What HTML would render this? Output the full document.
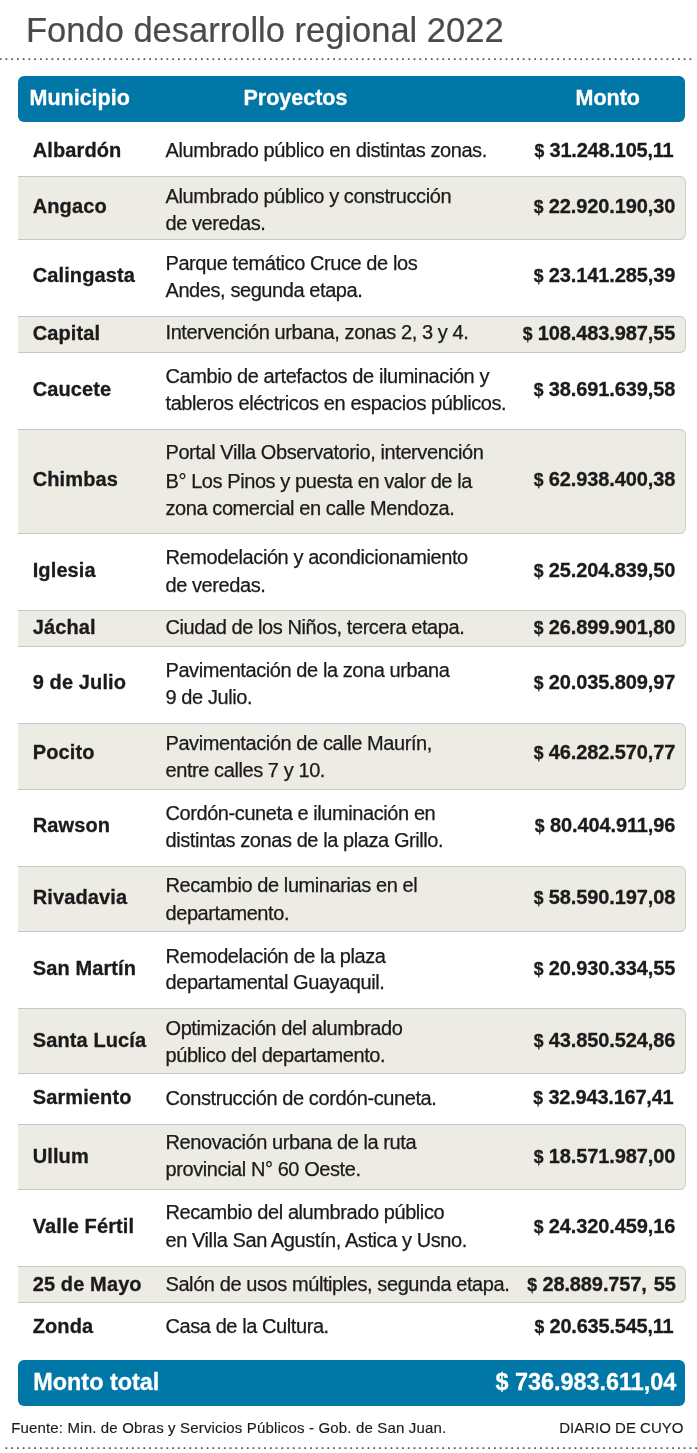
<!DOCTYPE html>
<html lang="es"><head><meta charset="utf-8"><title>Fondo desarrollo regional 2022</title>
<style>
html,body{margin:0;padding:0;background:#fff;}
body{width:697px;height:1453px;position:relative;overflow:hidden;font-family:"Liberation Sans",Arial,Helvetica,sans-serif;color:#1c1a1b;}
.t{position:absolute;white-space:nowrap;margin:0;}
#w{position:absolute;left:0;top:0;width:697px;height:1453px;will-change:transform;}
.title{font-size:34.5px;line-height:40px;color:#4a4a4a;-webkit-text-stroke:0.2px #4a4a4a;}
.dl{position:absolute;left:0;display:block;}
.bar{position:absolute;left:18px;width:667px;background:#0077a6;border-radius:6px;}
.hd{font-weight:bold;color:#fff;font-size:21.5px;line-height:26px;-webkit-text-stroke:0.3px #fff;}
.tot{font-weight:bold;color:#fff;font-size:23.4px;line-height:28px;-webkit-text-stroke:0.3px #fff;}
.sh{position:absolute;left:18px;width:666.7px;background:#ecece4;border-top:1px solid #c6c6c6;border-bottom:1px solid #c6c6c6;border-right:1px solid #cfcfcf;border-radius:0 6px 6px 0;box-sizing:content-box;}
.n{font-weight:bold;font-size:20px;line-height:24px;letter-spacing:0.12px;-webkit-text-stroke:0.3px #1c1a1b;}
.d{font-size:20px;line-height:24px;letter-spacing:-0.42px;-webkit-text-stroke:0.25px #1c1a1b;}
.a{font-weight:bold;font-size:20px;line-height:24px;letter-spacing:-0.11px;text-align:right;-webkit-text-stroke:0.3px #1c1a1b;}
.a i{font-style:normal;font-size:17.6px;letter-spacing:0;margin-right:5.3px;}
.f{font-size:15px;line-height:18px;color:#1a1a1a;-webkit-text-stroke:0.15px #1a1a1a;}
</style></head><body><div id="w">
<div class="t title" style="left:26.00px;top:9.90px;">Fondo desarrollo regional 2022</div>
<svg class="dl" style="top:54px" width="697" height="10" viewBox="0 0 697 10"><line x1="-0.2" y1="5" x2="691.6" y2="5" stroke="#585858" stroke-width="1.75" stroke-dasharray="1.75 3.9975"/></svg>
<div class="bar" style="top:76px;height:46.2px"></div>
<div class="t hd" style="left:29.50px;top:84.95px;">Municipio</div>
<div class="t hd" style="left:243.50px;top:84.95px;">Proyectos</div>
<div class="t hd" style="left:575.50px;top:84.95px;">Monto</div>
<div class="sh" style="top:175.80px;height:62.20px"></div>
<div class="sh" style="top:315.70px;height:35.50px"></div>
<div class="sh" style="top:428.80px;height:103.20px"></div>
<div class="sh" style="top:610.10px;height:35.10px"></div>
<div class="sh" style="top:722.60px;height:65.30px"></div>
<div class="sh" style="top:865.90px;height:64.00px"></div>
<div class="sh" style="top:1007.80px;height:64.00px"></div>
<div class="sh" style="top:1123.70px;height:64.10px"></div>
<div class="sh" style="top:1266.00px;height:34.90px"></div>
<div class="t n" style="left:32.70px;top:137.77px;">Albardón</div>
<div class="t d" style="left:165.50px;top:137.67px;">Alumbrado público en distintas zonas.</div>
<div class="t a" style="right:23.50px;top:137.77px;letter-spacing:-0.22px;"><i>$</i>31.248.105,11</div>
<div class="t n" style="left:32.70px;top:194.07px;">Angaco</div>
<div class="t d" style="left:165.50px;top:183.67px;">Alumbrado público y construcción</div>
<div class="t d" style="left:165.50px;top:210.97px;">de veredas.</div>
<div class="t a" style="right:21.70px;top:194.07px;"><i>$</i>22.920.190,30</div>
<div class="t n" style="left:32.70px;top:263.07px;">Calingasta</div>
<div class="t d" style="left:165.50px;top:250.77px;">Parque temático Cruce de los</div>
<div class="t d" style="left:165.50px;top:278.37px;">Andes, segunda etapa.</div>
<div class="t a" style="right:21.70px;top:263.07px;"><i>$</i>23.141.285,39</div>
<div class="t n" style="left:32.70px;top:320.67px;">Capital</div>
<div class="t d" style="left:165.50px;top:320.47px;">Intervención urbana, zonas 2, 3 y 4.</div>
<div class="t a" style="right:21.70px;top:320.67px;"><i>$</i>108.483.987,55</div>
<div class="t n" style="left:32.70px;top:377.07px;">Caucete</div>
<div class="t d" style="left:165.50px;top:364.27px;">Cambio de artefactos de iluminación y</div>
<div class="t d" style="left:165.50px;top:391.07px;">tableros eléctricos en espacios públicos.</div>
<div class="t a" style="right:21.70px;top:377.07px;"><i>$</i>38.691.639,58</div>
<div class="t n" style="left:32.70px;top:467.27px;">Chimbas</div>
<div class="t d" style="left:165.50px;top:440.17px;">Portal Villa Observatorio, intervención</div>
<div class="t d" style="left:165.50px;top:468.57px;">B° Los Pinos y puesta en valor de la</div>
<div class="t d" style="left:165.50px;top:496.37px;">zona comercial en calle Mendoza.</div>
<div class="t a" style="right:21.70px;top:467.27px;"><i>$</i>62.938.400,38</div>
<div class="t n" style="left:32.70px;top:557.77px;">Iglesia</div>
<div class="t d" style="left:165.50px;top:544.97px;">Remodelación y acondicionamiento</div>
<div class="t d" style="left:165.50px;top:572.77px;">de veredas.</div>
<div class="t a" style="right:21.70px;top:557.77px;"><i>$</i>25.204.839,50</div>
<div class="t n" style="left:32.70px;top:615.17px;">Jáchal</div>
<div class="t d" style="left:165.50px;top:615.17px;">Ciudad de los Niños, tercera etapa.</div>
<div class="t a" style="right:21.70px;top:615.17px;"><i>$</i>26.899.901,80</div>
<div class="t n" style="left:32.70px;top:670.47px;">9 de Julio</div>
<div class="t d" style="left:165.50px;top:657.97px;">Pavimentación de la zona urbana</div>
<div class="t d" style="left:165.50px;top:684.97px;">9 de Julio.</div>
<div class="t a" style="right:21.70px;top:670.47px;"><i>$</i>20.035.809,97</div>
<div class="t n" style="left:32.70px;top:740.27px;">Pocito</div>
<div class="t d" style="left:165.50px;top:730.87px;">Pavimentación de calle Maurín,</div>
<div class="t d" style="left:165.50px;top:757.87px;">entre calles 7 y 10.</div>
<div class="t a" style="right:21.70px;top:740.27px;"><i>$</i>46.282.570,77</div>
<div class="t n" style="left:32.70px;top:812.57px;">Rawson</div>
<div class="t d" style="left:165.50px;top:800.57px;">Cordón-cuneta e iluminación en</div>
<div class="t d" style="left:165.50px;top:827.87px;">distintas zonas de la plaza Grillo.</div>
<div class="t a" style="right:21.70px;top:812.57px;"><i>$</i>80.404.911,96</div>
<div class="t n" style="left:32.70px;top:885.47px;">Rivadavia</div>
<div class="t d" style="left:165.50px;top:873.17px;">Recambio de luminarias en el</div>
<div class="t d" style="left:165.50px;top:900.77px;">departamento.</div>
<div class="t a" style="right:21.70px;top:885.47px;"><i>$</i>58.590.197,08</div>
<div class="t n" style="left:32.70px;top:955.67px;">San Martín</div>
<div class="t d" style="left:165.50px;top:943.67px;">Remodelación de la plaza</div>
<div class="t d" style="left:165.50px;top:970.17px;">departamental Guayaquil.</div>
<div class="t a" style="right:21.70px;top:955.67px;"><i>$</i>20.930.334,55</div>
<div class="t n" style="left:32.70px;top:1027.97px;">Santa Lucía</div>
<div class="t d" style="left:165.50px;top:1015.67px;">Optimización del alumbrado</div>
<div class="t d" style="left:165.50px;top:1042.77px;">público del departamento.</div>
<div class="t a" style="right:21.70px;top:1027.97px;"><i>$</i>43.850.524,86</div>
<div class="t n" style="left:32.70px;top:1085.37px;">Sarmiento</div>
<div class="t d" style="left:165.50px;top:1086.17px;">Construcción de cordón-cuneta.</div>
<div class="t a" style="right:23.50px;top:1085.37px;letter-spacing:-0.22px;"><i>$</i>32.943.167,41</div>
<div class="t n" style="left:32.70px;top:1144.37px;">Ullum</div>
<div class="t d" style="left:165.50px;top:1130.07px;">Renovación urbana de la ruta</div>
<div class="t d" style="left:165.50px;top:1157.37px;">provincial N° 60 Oeste.</div>
<div class="t a" style="right:21.70px;top:1144.37px;"><i>$</i>18.571.987,00</div>
<div class="t n" style="left:32.70px;top:1213.97px;">Valle Fértil</div>
<div class="t d" style="left:165.50px;top:1200.17px;">Recambio del alumbrado público</div>
<div class="t d" style="left:165.50px;top:1228.27px;">en Villa San Agustín, Astica y Usno.</div>
<div class="t a" style="right:21.70px;top:1213.97px;"><i>$</i>24.320.459,16</div>
<div class="t n" style="left:32.70px;top:1271.77px;">25 de Mayo</div>
<div class="t d" style="left:165.50px;top:1271.77px;">Salón de usos múltiples, segunda etapa.</div>
<div class="t a" style="right:21.30px;top:1271.77px;word-spacing:1.4px;"><i>$</i>28.889.757, 55</div>
<div class="t n" style="left:32.70px;top:1314.07px;">Zonda</div>
<div class="t d" style="left:165.50px;top:1314.07px;">Casa de la Cultura.</div>
<div class="t a" style="right:23.50px;top:1314.07px;letter-spacing:-0.22px;"><i>$</i>20.635.545,11</div>
<div class="bar" style="top:1360px;height:46.4px"></div>
<div class="t tot" style="left:33.30px;top:1368.09px;">Monto total</div>
<div class="t tot" style="right:20.80px;top:1368.09px;">$ 736.983.611,04</div>
<div class="t f" style="left:11.20px;top:1419.10px;letter-spacing:0.16px;">Fuente: Min. de Obras y Servicios Públicos - Gob. de San Juan.</div>
<div class="t f" style="right:13.60px;top:1419.10px;">DIARIO DE CUYO</div>
<svg class="dl" style="top:1442.8px" width="697" height="10" viewBox="0 0 697 10"><line x1="5.5" y1="5" x2="697.3" y2="5" stroke="#585858" stroke-width="1.75" stroke-dasharray="1.75 3.9975"/></svg>
</div></body></html>
